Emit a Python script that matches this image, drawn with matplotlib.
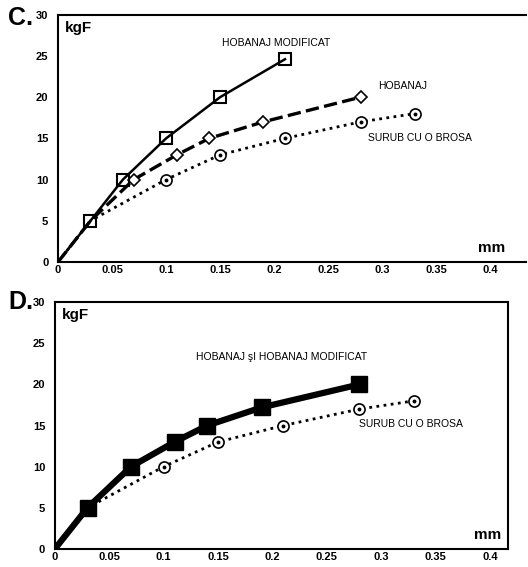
import matplotlib
matplotlib.use("Agg")
import matplotlib.pyplot as plt

plt.rcParams["font.family"] = ["Liberation Sans", "DejaVu Sans"]

# panel C
mod_x = [0, 0.03, 0.06, 0.10, 0.15, 0.21]
mod_y = [0, 5, 10, 15, 20, 24.6]
hob_x = [0, 0.03, 0.07, 0.11, 0.14, 0.19, 0.28]
hob_y = [0, 5, 10, 13, 15, 17, 20]
sur_x = [0, 0.03, 0.10, 0.15, 0.21, 0.28, 0.33]
sur_y = [0, 5, 10, 13, 15, 17, 18]

# panel D
both_x = [0, 0.03, 0.07, 0.11, 0.14, 0.19, 0.28]
both_y = [0, 5, 10, 13, 15, 17.2, 20]
sur2_x = [0, 0.03, 0.10, 0.15, 0.21, 0.28, 0.33]
sur2_y = [0, 5, 10, 13, 15, 17, 18]

xticks = [0, 0.05, 0.1, 0.15, 0.2, 0.25, 0.3, 0.35, 0.4]
xtick_labels = ["0", "0.05", "0.1", "0.15", "0.2", "0.25", "0.3", "0.35", "0.4"]
yticks = [0, 5, 10, 15, 20, 25, 30]

fig = plt.figure(figsize=(5.28, 5.67), dpi=100)
axC = fig.add_axes([0.110, 0.538, 0.886, 0.436])
axD = fig.add_axes([0.104, 0.032, 0.858, 0.435])

TICKFONT = dict(family=["Liberation Sans Narrow", "Liberation Sans", "DejaVu Sans"],
                fontsize=8, fontweight="bold")


def style(ax, xmax):
    ax.set_xlim(0, xmax)
    ax.set_ylim(0, 30)
    ax.set_xticks(xticks)
    ax.set_xticklabels(xtick_labels, **TICKFONT)
    ax.set_yticks(yticks)
    ax.set_yticklabels([str(v) for v in yticks], **TICKFONT)
    ax.tick_params(axis="y", length=0, pad=7)
    ax.tick_params(axis="x", length=0, pad=2.5)
    for s in ax.spines.values():
        s.set_linewidth(1.5)
    ax.text(0.006, 29.3, "kgF", fontsize=11, fontweight="bold", va="top")


def circles(ax, x, y, lw):
    ax.plot(x, y, color="black", lw=lw, ls=(0, (1, 1.6)), marker="o", ms=8,
            mfc="white", mec="black", mew=1.2, markevery=list(range(2, len(x))))
    ax.plot(x[2:], y[2:], ls="none", marker="o", ms=1.8, color="black")


# C
style(axC, 0.433)
axC.spines["right"].set_visible(False)
circles(axC, sur_x, sur_y, 2.0)
axC.plot(hob_x, hob_y, color="black", lw=2.4, ls=(0, (4, 1.6)), marker="D", ms=6,
         mfc="white", mec="black", mew=1.2, markevery=list(range(2, len(hob_x))))
axC.plot(mod_x, mod_y, color="black", lw=1.8, marker="s", ms=9,
         mfc="none", mec="black", mew=1.5, markevery=list(range(1, len(mod_x))))
axC.text(0.152, 26.6, "HOBANAJ MODIFICAT", fontsize=7.5, va="center")
axC.text(0.296, 21.3, "HOBANAJ", fontsize=7.5, va="center")
axC.text(0.287, 15.1, "SURUB CU O BROSA", fontsize=7.5, va="center")
axC.text(0.414, 1.2, "mm", fontsize=11, fontweight="bold", ha="right")
fig.text(0.015, 0.968, "C.", fontsize=18, fontweight="bold", va="center")

# D
style(axD, 0.4166)
circles(axD, sur2_x, sur2_y, 2.0)
axD.plot(both_x, both_y, color="black", lw=4.5, marker="s", ms=11,
         mfc="black", mec="black", markevery=list(range(1, len(both_x))))
axD.text(0.13, 23.3, "HOBANAJ şI HOBANAJ MODIFICAT", fontsize=7.5, va="center")
axD.text(0.280, 15.2, "SURUB CU O BROSA", fontsize=7.5, va="center")
axD.text(0.41, 1.2, "mm", fontsize=11, fontweight="bold", ha="right")
fig.text(0.015, 0.467, "D.", fontsize=18, fontweight="bold", va="center")

fig.savefig("out.png", dpi=100)
